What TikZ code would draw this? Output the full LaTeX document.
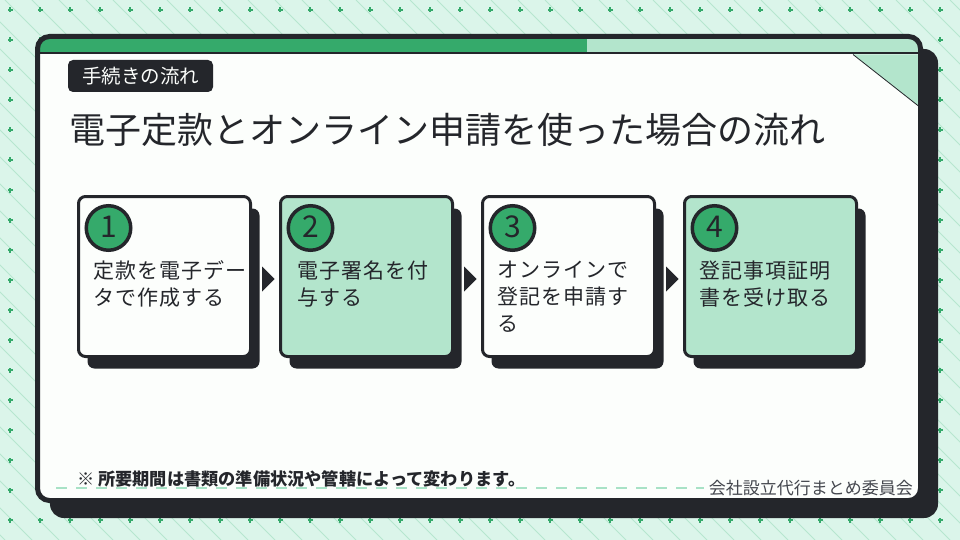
\documentclass[tikz,border=0pt]{standalone}
\usepackage{fontspec}
\setmainfont{Noto Sans CJK JP}
\usetikzlibrary{calc,shadows}
\definecolor{ink}{HTML}{24262B}
\definecolor{bgc}{HTML}{DBF5EA}
\definecolor{patc}{HTML}{B6E6CF}
\definecolor{gr}{HTML}{35AA6B}
\definecolor{lgr}{HTML}{B3E5CC}
\definecolor{paper}{HTML}{FCFEFC}
\definecolor{dashc}{HTML}{A8E2C6}
\definecolor{orgc}{HTML}{44474E}
\tikzset{
  cardbox/.style={draw=ink, line width=3pt, rounded corners=7pt, minimum width=172pt, minimum height=160pt, inner sep=0pt,
    drop shadow={shadow xshift=9pt, shadow yshift=-12pt, fill=ink, opacity=1}},
  numc/.style={circle, draw=ink, line width=3.5pt, fill=gr, minimum size=44.5pt, inner sep=0pt, text=ink, font=\fontsize{30}{30}\selectfont},
  ctext/.style={align=left, inner sep=0pt, text=ink, anchor=north west, font=\fontsize{21}{27}\selectfont\addfontfeature{LetterSpace=5}},
  chev/.style={fill=ink}
}
\begin{document}
\begin{tikzpicture}[x=1pt,y=-1pt]
\useasboundingbox (0,0) rectangle (960,540);
% background
\fill[bgc] (0,0) rectangle (960,540);
\begin{scope}
\clip (0,0) rectangle (960,540);
\foreach \k in {-535,-508,...,960} \draw[patc, line width=0.8pt] (\k,0) -- (\k+540,540);
\end{scope}
\foreach \i in {0,...,31} {
  \foreach \j in {0,...,17} {
    \fill[gr] (10+30*\i-2.5, 10+30*\j-0.9) rectangle ++(5,1.8);
    \fill[gr] (10+30*\i-0.9, 10+30*\j-2.5) rectangle ++(1.8,5);
  }
}
% main card
\fill[ink, rounded corners=14pt] (50,49) rectangle (938,518);
\fill[paper, rounded corners=12pt] (37.5,36.5) rectangle (920.5,500.5);
\begin{scope}
\clip[rounded corners=12pt] (37.5,36.5) rectangle (920.5,500.5);
\fill[gr] (35,34) rectangle (587,52);
\fill[lgr] (587,34) rectangle (925,52);
\fill[ink] (35,52) rectangle (925,54.5);
\fill[lgr] (853,54.5) -- (921,54.5) -- (921,108) -- cycle;
\draw[ink, line width=0.8pt] (853,54.5) -- (921,108);
\end{scope}
\draw[ink, line width=5pt, rounded corners=12pt] (37.5,36.5) rectangle (920.5,500.5);
% tag and title
\node[fill=ink, rounded corners=5pt, minimum width=145pt, minimum height=32pt, inner sep=0pt, text=paper,
  font=\fontsize{19.5}{19.5}\selectfont] (tag) at (140.5,76) {手続きの流れ};
\node[anchor=west, inner sep=0pt, text=ink, font=\fontsize{36}{36}\selectfont] (title) at (69,130)
  {電子定款とオンライン申請を使った場合の流れ};
% cards
\node[cardbox, fill=paper] (c1) at (164.5,276.5) {};
\node[cardbox, fill=lgr] (c2) at (366.5,276.5) {};
\node[cardbox, fill=paper] (c3) at (568.5,276.5) {};
\node[cardbox, fill=lgr] (c4) at (770.5,276.5) {};
\foreach \c/\n in {c1/1,c2/2,c3/3,c4/4} {
  \node[numc] (n\n) at ($(\c.north west)+(31.5,33)$) {\raisebox{2.5pt}{\n}};
}
\node[ctext] (t1) at ($(c1.north west)+(16.5,65.5)$) {定款を電子デー\\タで作成する};
\node[ctext] (t2) at ($(c2.north west)+(18.5,65.5)$) {電子署名を付\\与する};
\node[ctext] (t3) at ($(c3.north west)+(16.5,65.5)$) {オンラインで\\登記を申請す\\る};
\node[ctext] (t4) at ($(c4.north west)+(16.5,65.5)$) {登記事項証明\\書を受け取る};
% chevrons
\foreach \c in {c1,c2,c3} {
  \coordinate (\c-a) at ($(\c.east)+(10,-10)$);
  \coordinate (\c-b) at ($(\c.east)+(22.5,2.5)$);
  \coordinate (\c-c) at ($(\c.east)+(10,15)$);
  \fill[chev] (\c-a) -- (\c-b) -- (\c-c) -- cycle;
}
% footer
\draw[dashc, line width=1.5pt, dash pattern=on 10.7pt off 9.3pt] (56,488) -- (704,488);
\node[anchor=west, inner sep=0pt, text=ink, font=\bfseries\fontsize{17.2}{17.2}\selectfont] (note) at (77,479)
  {※ 所要期間は書類の準備状況や管轄によって変わります。};
\node[anchor=east, inner sep=0pt, text=orgc, font=\fontsize{17}{17}\selectfont] (org) at (913,488)
  {会社設立代行まとめ委員会};
\end{tikzpicture}
\end{document}
